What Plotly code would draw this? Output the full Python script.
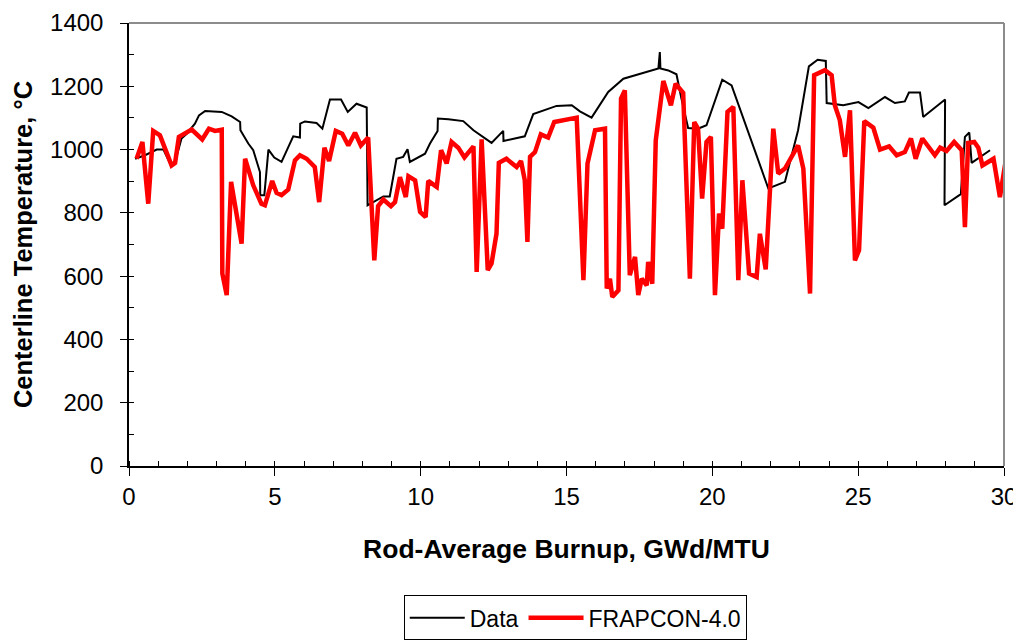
import plotly.graph_objects as go

data_x = [0.21, 0.55, 0.95, 1.18, 1.41, 1.58, 1.80, 1.98, 2.26, 2.40, 2.61, 3.18, 3.52, 3.81, 3.82,
          4.09, 4.26, 4.49, 4.50, 4.64, 4.78, 4.98, 5.23, 5.63, 5.86, 5.87, 6.03, 6.43, 6.63, 6.89,
          7.27, 7.50, 7.80, 8.15, 8.18, 8.43, 8.72, 8.94, 9.17, 9.40, 9.55, 9.63, 10.15, 10.32,
          10.58, 10.59, 10.95, 11.46, 11.81, 12.43, 12.83, 12.84, 13.57, 13.86, 14.26, 14.66,
          15.18, 15.46, 15.86, 16.43, 16.95, 18.15, 18.20, 18.22, 18.49, 18.77, 18.94, 19.17,
          19.51, 19.80, 20.34, 20.66, 21.92, 22.49, 22.94, 23.31, 23.61, 23.89, 23.92, 24.49,
          25.01, 25.35, 25.92, 26.26, 26.60, 26.74, 27.12, 27.23, 27.98, 27.96, 28.52, 28.66,
          28.81, 28.89, 29.52]
data_y = [971, 982, 1000, 1000, 956, 961, 1035, 1050, 1082, 1108, 1122, 1119, 1105, 1087, 1061,
          1019, 998, 929, 856, 856, 1000, 975, 961, 1042, 1038, 1082, 1089, 1084, 1066, 1158,
          1158, 1119, 1145, 1133, 824, 838, 852, 852, 971, 977, 1001, 961, 987, 1019,
          1059, 1098, 1096, 1090, 1061, 1021, 1059, 1027, 1042, 1112, 1124, 1138,
          1140, 1121, 1101, 1182, 1224, 1256, 1308, 1256, 1250, 1238, 1161, 1068,
          1066, 1077, 1221, 1203, 877, 898, 1061, 1263, 1284, 1280, 1147, 1140,
          1150, 1131, 1166, 1147, 1152, 1180, 1180, 1103, 1158, 824, 859, 1040,
          1054, 958, 998]

frap_x = [0.26, 0.46, 0.66, 0.83, 1.06, 1.46, 1.58, 1.71, 2.15, 2.51, 2.74, 2.95, 3.18, 3.20, 3.35,
          3.50, 3.86, 3.98, 4.26, 4.54, 4.66, 4.91, 5.06, 5.23, 5.46, 5.69, 5.86, 6.09, 6.37, 6.52,
          6.70, 6.86, 7.09, 7.31, 7.52, 7.75, 7.95, 8.20, 8.41, 8.54, 8.72, 8.98, 9.12, 9.29, 9.49,
          9.58, 9.81, 9.98, 10.17, 10.26, 10.55, 10.70, 10.89, 11.06, 11.29, 11.50, 11.81, 11.92,
          12.09, 12.30, 12.43, 12.60, 12.68, 12.94, 13.29, 13.44, 13.57, 13.66, 13.75, 13.92,
          14.12, 14.37, 14.58, 15.35, 15.58, 15.72, 15.98, 16.32, 16.38, 16.49, 16.57, 16.78,
          16.87, 17.00, 17.17, 17.35, 17.46, 17.58, 17.75, 17.80, 17.94, 18.06, 18.32, 18.58,
          18.74, 19.00, 19.23, 19.38, 19.51, 19.65, 19.80, 19.95, 20.09, 20.23, 20.34, 20.52,
          20.72, 20.89, 21.03, 21.26, 21.52, 21.63, 21.83, 22.09, 22.26, 22.49, 22.94, 23.12,
          23.35, 23.49, 23.86, 24.09, 24.20, 24.37, 24.55, 24.72, 24.89, 25.03, 25.21, 25.52,
          25.75, 26.06, 26.32, 26.60, 26.81, 26.97, 27.20, 27.40, 27.63, 27.81, 28.03, 28.29,
          28.55, 28.66, 28.77, 28.98, 29.12, 29.26, 29.64, 29.86, 30.05]
frap_y = [971, 1024, 829, 1059, 1045, 950, 958, 1040, 1063, 1032, 1066, 1059, 1063, 608, 540,
          898, 703, 971, 887, 829, 824, 901, 863, 856, 874, 966, 982, 971, 945, 834,
          1006, 964, 1059, 1050, 1013, 1053, 1013, 1038, 650, 821, 842, 821, 834, 913, 850,
          916, 903, 803, 787, 901, 882, 998, 956, 1024, 1006, 975, 1010, 613,
          1032, 619, 640, 734, 958, 971, 945, 964, 903, 708, 977, 992,
          1048, 1038, 1087, 1101, 587, 956, 1061, 1066, 561, 592, 534, 555,
          1161, 1187, 603, 661, 540, 592, 571, 645, 576, 1029, 1217, 1140,
          1208, 1179, 592, 1087, 1066, 845, 1024, 1040, 540, 798, 750, 1119,
          1135, 587, 903, 608, 597, 734, 621, 1066, 924, 940, 1013, 940,
          545, 1235, 1251, 1235, 1140, 1093, 977, 1124, 650, 682, 1090, 1069,
          1000, 1010, 982, 992, 1035, 971, 1035, 1008, 982, 1006, 996, 1024,
          998, 755, 1021, 1024, 1006, 950, 971, 850, 960]

x_ticks = [0, 5, 10, 15, 20, 25, 30]
y_ticks = [0, 200, 400, 600, 800, 1000, 1200, 1400]

FONT = "Liberation Sans, Arial, sans-serif"

fig = go.Figure()
fig.add_trace(go.Scatter(x=data_x, y=data_y, mode="lines", name="Data",
                         line=dict(color="black", width=2)))
fig.add_trace(go.Scatter(x=frap_x, y=frap_y, mode="lines", name="FRAPCON-4.0",
                         line=dict(color="#FF0000", width=4.5)))

fig.update_layout(
    width=1021, height=642,
    margin=dict(l=121, r=25, t=15, b=184, autoexpand=False),
    paper_bgcolor="white", plot_bgcolor="white",
    font=dict(family=FONT, size=23, color="black"),
    showlegend=True,
    legend=dict(orientation="h", x=0.51, xanchor="center", y=-0.292, yanchor="top",
                bordercolor="black", borderwidth=1, font=dict(size=23, family=FONT),
                itemwidth=55, tracegroupgap=0),
    xaxis=dict(range=[0, 30], tickvals=x_ticks, ticks="outside", ticklen=8, tickwidth=1,
               tickcolor="black", showline=True, linecolor="black", linewidth=1.5,
               showgrid=False, zeroline=False, tickfont=dict(size=24, family=FONT),
               automargin=False,
               minor=dict(dtick=1, ticks="inside", ticklen=5, tickcolor="black", showgrid=False),
               title=dict(text="<b>Rod-Average Burnup, GWd/MTU</b>", font=dict(size=26.5, family=FONT),
                          standoff=31)),
    yaxis=dict(range=[0, 1400], tickvals=y_ticks, ticks="outside", ticklen=7, tickwidth=1,
               tickcolor="black", showline=True, linecolor="black", linewidth=1.5,
               showgrid=False, zeroline=False, tickfont=dict(size=24, family=FONT),
               automargin=False, ticklabelstandoff=12,
               minor=dict(dtick=100, ticks="inside", ticklen=5, tickcolor="black", showgrid=False),
               title=dict(text="<b>Centerline Temperature, °C</b>", font=dict(size=25.5, family=FONT),
                          standoff=10)),
    shapes=[
        dict(type="line", xref="paper", yref="paper", x0=0, x1=1, y0=1, y1=1,
             line=dict(color="#8C8C8C", width=2)),
        dict(type="line", xref="paper", yref="paper", x0=1, x1=1, y0=0, y1=1,
             line=dict(color="#8C8C8C", width=2)),
    ],
)

fig.write_html("out.html")
